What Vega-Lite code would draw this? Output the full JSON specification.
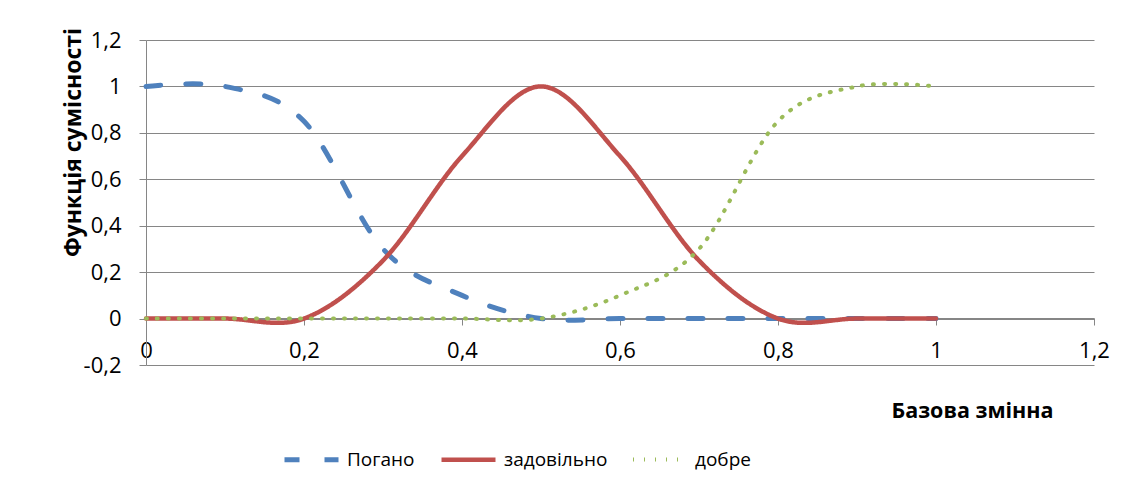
{
  "$schema": "https://vega.github.io/schema/vega-lite/v6.json",
  "width": 948,
  "height": 325,
  "autosize": {"type": "none"},
  "padding": {"left": 146, "top": 40, "right": 37, "bottom": 127},
  "background": "white",
  "config": {
    "locale": {"number": {"decimal": ",", "thousands": " ", "grouping": [3], "currency": ["", ""], "minus": "-"}},
    "font": "Open Sans",
    "view": {"stroke": null},
    "axis": {"labelFont": "Open Sans", "titleFont": "Open Sans", "labelColor": "#000000", "titleColor": "#000000"}
  },
  "data": {
    "values": [
      {"x": 0.0, "y": 1, "series": "Погано"},
      {"x": 0.1, "y": 1, "series": "Погано"},
      {"x": 0.2, "y": 0.85, "series": "Погано"},
      {"x": 0.3, "y": 0.3, "series": "Погано"},
      {"x": 0.4, "y": 0.1, "series": "Погано"},
      {"x": 0.5, "y": 0, "series": "Погано"},
      {"x": 0.6, "y": 0, "series": "Погано"},
      {"x": 0.7, "y": 0, "series": "Погано"},
      {"x": 0.8, "y": 0, "series": "Погано"},
      {"x": 0.9, "y": 0, "series": "Погано"},
      {"x": 1.0, "y": 0, "series": "Погано"},
      {"x": 0.0, "y": 0, "series": "задовільно"},
      {"x": 0.1, "y": 0, "series": "задовільно"},
      {"x": 0.2, "y": 0, "series": "задовільно"},
      {"x": 0.3, "y": 0.25, "series": "задовільно"},
      {"x": 0.4, "y": 0.7, "series": "задовільно"},
      {"x": 0.5, "y": 1, "series": "задовільно"},
      {"x": 0.6, "y": 0.7, "series": "задовільно"},
      {"x": 0.7, "y": 0.25, "series": "задовільно"},
      {"x": 0.8, "y": 0, "series": "задовільно"},
      {"x": 0.9, "y": 0, "series": "задовільно"},
      {"x": 1.0, "y": 0, "series": "задовільно"},
      {"x": 0.0, "y": 0, "series": "добре"},
      {"x": 0.1, "y": 0, "series": "добре"},
      {"x": 0.2, "y": 0, "series": "добре"},
      {"x": 0.3, "y": 0, "series": "добре"},
      {"x": 0.4, "y": 0, "series": "добре"},
      {"x": 0.5, "y": 0, "series": "добре"},
      {"x": 0.6, "y": 0.1, "series": "добре"},
      {"x": 0.7, "y": 0.3, "series": "добре"},
      {"x": 0.8, "y": 0.85, "series": "добре"},
      {"x": 0.9, "y": 1, "series": "добре"},
      {"x": 1.0, "y": 1, "series": "добре"}
    ]
  },
  "mark": {"type": "line", "interpolate": "cardinal", "tension": 0, "strokeCap": "round", "strokeJoin": "round"},
  "encoding": {
    "x": {
      "field": "x", "type": "quantitative",
      "scale": {"domain": [0, 1.2], "nice": false, "zero": false},
      "axis": {
        "values": [0, 0.2, 0.4, 0.6, 0.8, 1, 1.2],
        "format": ".1~f",
        "offset": -47,
        "grid": false,
        "domainColor": "#868686",
        "tickColor": "#868686",
        "tickSize": 7,
        "labelFontSize": 22,
        "labelPadding": 15,
        "labelFlush": false,
        "labelOverlap": false,
        "title": "Базова змінна",
        "titleFontSize": 21.5,
        "titleFontWeight": "bold",
        "titleX": 826,
        "titleY": 99,
        "titleAlign": "center",
        "titleBaseline": "alphabetic",
        "titleAnchor": null
      }
    },
    "y": {
      "field": "y", "type": "quantitative",
      "scale": {"domain": [-0.2, 1.2], "nice": false, "zero": false},
      "axis": {
        "values": [-0.2, 0, 0.2, 0.4, 0.6, 0.8, 1, 1.2],
        "format": ".1~f",
        "grid": true,
        "gridColor": "#868686",
        "gridWidth": 1,
        "domainColor": "#868686",
        "tickColor": "#868686",
        "tickSize": 7,
        "labelFontSize": 22,
        "labelPadding": 18,
        "labelOverlap": false,
        "labelFlush": false,
        "title": "Функція сумісності",
        "titleFontSize": 23,
        "titleFontWeight": "bold",
        "titleX": -66,
        "titleY": 102,
        "titleAngle": -90,
        "titleAlign": "center",
        "titleBaseline": "alphabetic"
      }
    },
    "color": {
      "field": "series", "type": "nominal", "sort": ["Погано", "задовільно", "добре"],
      "scale": {"domain": ["Погано", "задовільно", "добре"], "range": ["#4F81BD", "#C0504D", "#9BBB59"]},
      "legend": {
        "title": null,
        "orient": "none",
        "direction": "horizontal",
        "legendX": 136,
        "legendY": 390,
        "padding": 0,
        "symbolType": "stroke",
        "symbolSize": 2916,
        "symbolStrokeWidth": 5,
        "labelFontSize": 19,
        "labelFont": "Open Sans",
        "labelColor": "#000000",
        "labelOffset": 6,
        "columnPadding": 17
      }
    },
    "strokeDash": {
      "field": "series", "type": "nominal", "sort": ["Погано", "задовільно", "добре"],
      "scale": {"domain": ["Погано", "задовільно", "добре"], "range": [[15, 25], [1, 0], [1, 10]]},
      "legend": {
        "title": null,
        "orient": "none",
        "direction": "horizontal",
        "legendX": 136,
        "legendY": 390,
        "padding": 0,
        "symbolType": "stroke",
        "symbolSize": 2916,
        "symbolStrokeWidth": 5,
        "labelFontSize": 19,
        "labelFont": "Open Sans",
        "labelColor": "#000000",
        "labelOffset": 6,
        "columnPadding": 17
      }
    },
    "strokeWidth": {
      "field": "series", "type": "nominal",
      "scale": {"domain": ["Погано", "задовільно", "добре"], "range": [5, 4, 6]},
      "legend": null
    }
  }
}
